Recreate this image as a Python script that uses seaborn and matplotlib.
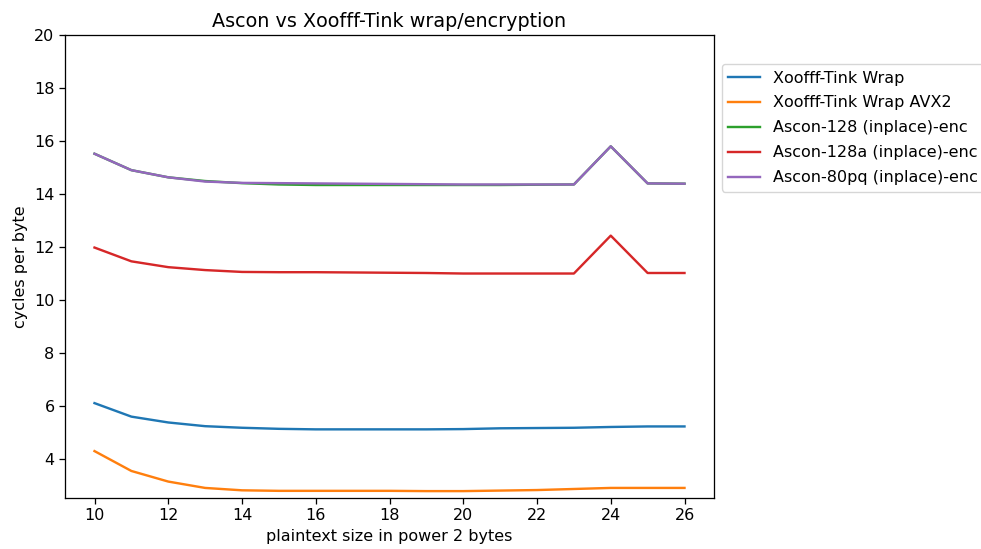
import matplotlib
matplotlib.use("Agg")
import matplotlib.pyplot as plt
import seaborn as sns
import pandas as pd

sizes = list(range(10, 27))
series_names = ["Xoofff-Tink Wrap", "Xoofff-Tink Wrap AVX2", "Ascon-128 (inplace)-enc",
                "Ascon-128a (inplace)-enc", "Ascon-80pq (inplace)-enc"]
xoofff_wrap = [6.11, 5.60, 5.38, 5.24, 5.18, 5.14, 5.12, 5.12, 5.12, 5.12, 5.13, 5.16, 5.17, 5.18, 5.21, 5.23, 5.23]
xoofff_wrap_avx2 = [4.30, 3.55, 3.15, 2.91, 2.82, 2.80, 2.80, 2.80, 2.80, 2.79, 2.79, 2.81, 2.83, 2.87, 2.91, 2.91, 2.91]
ascon128 = [15.52, 14.90, 14.63, 14.49, 14.41, 14.36, 14.34, 14.34, 14.34, 14.34, 14.34, 14.34, 14.35, 14.36, 15.80, 14.40, 14.39]
ascon128a = [11.98, 11.46, 11.24, 11.13, 11.06, 11.05, 11.05, 11.04, 11.03, 11.02, 11.00, 11.00, 11.00, 11.00, 12.43, 11.02, 11.02]
ascon80pq = [15.52, 14.90, 14.63, 14.47, 14.42, 14.41, 14.40, 14.39, 14.38, 14.37, 14.36, 14.36, 14.36, 14.36, 15.80, 14.40, 14.39]

all_vals = [xoofff_wrap, xoofff_wrap_avx2, ascon128, ascon128a, ascon80pq]
rows = []
for name, vals in zip(series_names, all_vals):
    for s, v in zip(sizes, vals):
        rows.append({"size": s, "cpb": v, "series": name})
df = pd.DataFrame(rows)

sc = 1.15
plt.rcParams.update({
    "font.size": 10 * sc,
    "lines.linewidth": 1.5 * sc,
    "axes.linewidth": 0.8 * sc,
    "xtick.major.size": 3.5 * sc,
    "ytick.major.size": 3.5 * sc,
    "xtick.major.width": 0.8 * sc,
    "ytick.major.width": 0.8 * sc,
})

fig = plt.figure(figsize=(9.81, 5.49), dpi=100)
ax = fig.add_axes([65/981, 1 - 498/549, 649/981, 463/549])
sns.lineplot(data=df, x="size", y="cpb", hue="series", hue_order=series_names,
             palette=sns.color_palette("tab10", 5), ax=ax, linewidth=1.5 * sc)
ax.set_ylim(2.53, 20)
ax.set_xticks(range(10, 27, 2))
ax.set_yticks(range(4, 21, 2))
ax.set_xlabel("plaintext size in power 2 bytes")
ax.set_ylabel("cycles per byte")
ax.set_title("Ascon vs Xoofff-Tink wrap/encryption", fontsize=12 * sc)
ax.legend(title=None, loc="upper left", bbox_to_anchor=(1.012, 0.937), borderaxespad=0,
          labelspacing=0.62)
fig.savefig("out.png", dpi=100)
